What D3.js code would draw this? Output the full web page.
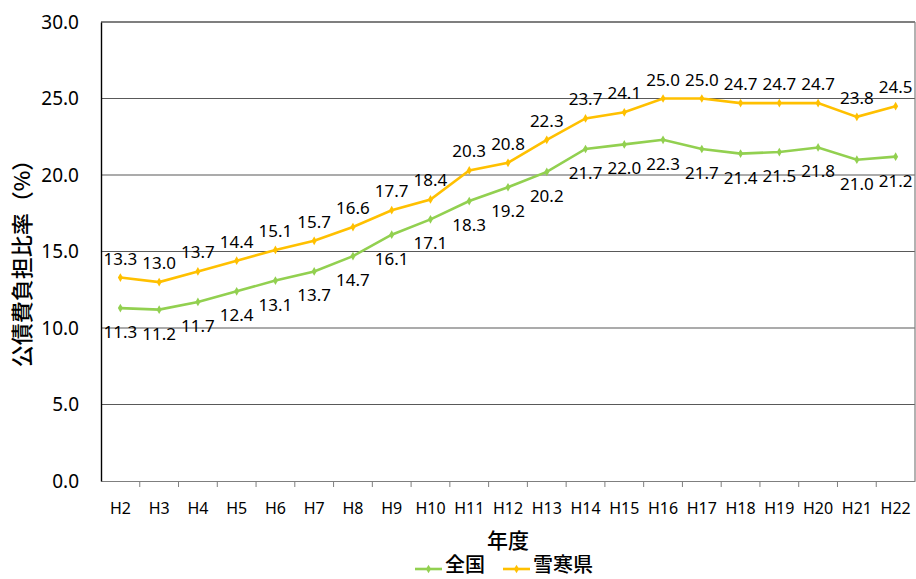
<!doctype html>
<html>
<head>
<meta charset="utf-8">
<style>
  body { margin: 0; background: #fff; }
  text { font-family: "Noto Sans", "Noto Sans CJK JP", sans-serif; fill: #000; }
  .cjk { font-family: "Noto Sans CJK JP", sans-serif; font-weight: 500; }
</style>
<script src="https://d3js.org/d3.v7.min.js"></script>
</head>
<body>
<svg width="916" height="579" id="chart"></svg>
<script>
var years = ["H2","H3","H4","H5","H6","H7","H8","H9","H10","H11","H12","H13","H14","H15","H16","H17","H18","H19","H20","H21","H22"];
var zenkoku = [11.3,11.2,11.7,12.4,13.1,13.7,14.7,16.1,17.1,18.3,19.2,20.2,21.7,22.0,22.3,21.7,21.4,21.5,21.8,21.0,21.2];
var sekkan = [13.3,13.0,13.7,14.4,15.1,15.7,16.6,17.7,18.4,20.3,20.8,22.3,23.7,24.1,25.0,25.0,24.7,24.7,24.7,23.8,24.5];
var yTicks = [0,5,10,15,20,25,30];

var svg = d3.select("#chart"),
    plotLeft = 101, plotRight = 915, plotTop = 22, plotBottom = 481;

var x = d3.scaleBand().domain(years).range([plotLeft, plotRight]);
var y = d3.scaleLinear().domain([0, 30]).range([plotBottom, plotTop]);

// gridlines
svg.append("g").selectAll("line")
  .data(yTicks.filter(function(d){ return d > 0 && d < 30; }))
  .enter().append("line")
  .attr("x1", plotLeft).attr("x2", plotRight)
  .attr("y1", function(d){ return y(d); }).attr("y2", function(d){ return y(d); })
  .attr("stroke", "#595959").attr("stroke-width", 1.2);

// frame
svg.append("line").attr("x1", plotLeft).attr("x2", plotRight).attr("y1", y(30)).attr("y2", y(30))
  .attr("stroke", "#000").attr("stroke-width", 1.2);
svg.append("line").attr("x1", plotRight).attr("x2", plotRight).attr("y1", plotTop).attr("y2", plotBottom)
  .attr("stroke", "#7f7f7f").attr("stroke-width", 1.2);

// x axis
var xAxis = svg.append("g")
  .attr("transform", "translate(0," + plotBottom + ")")
  .call(d3.axisBottom(x).tickSize(0).tickPadding(22));
xAxis.select(".domain").attr("stroke", "#7f7f7f").attr("stroke-width", 1.2);
xAxis.selectAll("text").style("font-size", "16px").attr("fill", "#000");
svg.append("g").selectAll("line")
  .data(years.slice(1))
  .enter().append("line")
  .attr("x1", function(d){ return x(d); }).attr("x2", function(d){ return x(d); })
  .attr("y1", plotBottom).attr("y2", plotBottom + 6)
  .attr("stroke", "#7f7f7f").attr("stroke-width", 1);

// y axis
var yAxis = svg.append("g")
  .attr("transform", "translate(" + plotLeft + ",0)")
  .call(d3.axisLeft(y).tickValues(yTicks).tickSize(0).tickPadding(22)
    .tickFormat(function(d){ return d.toFixed(1); }));
yAxis.select(".domain").attr("stroke", "#000").attr("stroke-width", 1.4);
yAxis.selectAll("text").style("font-size", "19px").attr("fill", "#000");

// axis titles
svg.append("text").attr("class", "cjk")
  .attr("transform", "translate(30,258) rotate(-90)")
  .attr("text-anchor", "middle")
  .style("font-size", "22px")
  .text("公債費負担比率（%）");
svg.append("text").attr("class", "cjk")
  .attr("x", 508).attr("y", 548)
  .attr("text-anchor", "middle")
  .style("font-size", "21px")
  .text("年度");

var series = [
  {name: "全国", values: zenkoku, color: "#92D050", dy: 30},
  {name: "雪寒県", values: sekkan, color: "#FFC000", dy: -13}
];

var line = d3.line()
  .x(function(d, i){ return x(years[i]) + x.bandwidth() / 2; })
  .y(function(d){ return y(d); });

series.forEach(function(s) {
  svg.append("path")
    .attr("d", line(s.values))
    .attr("fill", "none")
    .attr("stroke", s.color)
    .attr("stroke-width", 2.6);
  svg.append("g").selectAll("path")
    .data(s.values)
    .enter().append("path")
    .attr("d", d3.symbol().type(d3.symbolDiamond).size(22))
    .attr("transform", function(d, i){ return "translate(" + (x(years[i]) + x.bandwidth() / 2) + "," + y(d) + ")"; })
    .attr("fill", s.color);
  svg.append("g").selectAll("text")
    .data(s.values)
    .enter().append("text")
    .attr("x", function(d, i){ return x(years[i]) + x.bandwidth() / 2; })
    .attr("y", function(d){ return y(d) + s.dy; })
    .attr("text-anchor", "middle")
    .style("font-size", "17px")
    .text(function(d){ return d.toFixed(1); });
});

// legend
var legend = svg.append("g");
var lx = [415, 503];
series.forEach(function(s, i) {
  legend.append("line")
    .attr("x1", lx[i]).attr("x2", lx[i] + 27)
    .attr("y1", 569).attr("y2", 569)
    .attr("stroke", s.color).attr("stroke-width", 2.6);
  legend.append("path")
    .attr("d", d3.symbol().type(d3.symbolDiamond).size(22))
    .attr("transform", "translate(" + (lx[i] + 13.5) + ",569)")
    .attr("fill", s.color);
  legend.append("text").attr("class", "cjk")
    .attr("x", lx[i] + 30).attr("y", 572)
    .style("font-size", "20px")
    .text(s.name);
});
</script>
</body>
</html>
